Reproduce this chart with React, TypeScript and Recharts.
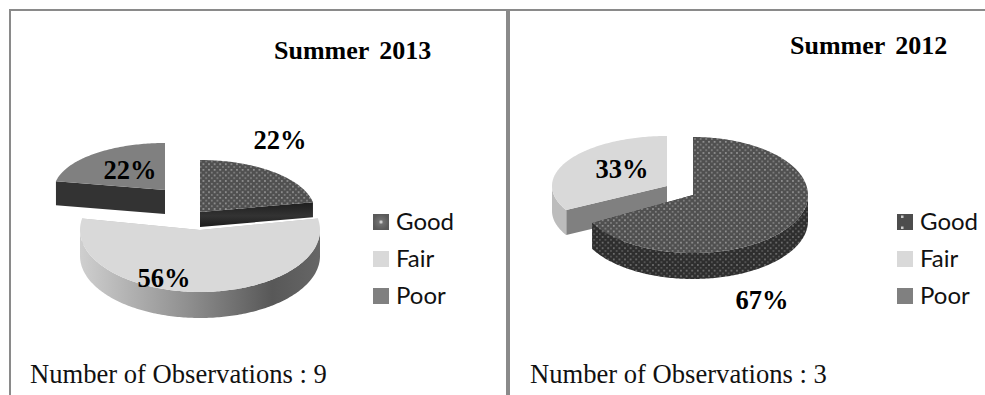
import { Legend, Pie, PieChart } from 'recharts';

const categories = ['Good', 'Fair', 'Poor'];
const values2013 = [22, 56, 22];
const values2012 = [67, 33, 0];
const fills = ['url(#dotsTop)', '#d9d9d9', '#808080'];

// Slices are listed back to front and swept counter-clockwise, so Good paints last
const toRows = (values: number[]) =>
  categories
    .map((name, i) => ({ name, value: values[i], fill: fills[i] }))
    .reverse();

type SliceLook = {
  dx: number;
  dy: number;
  rx: number;
  ry: number;
  depth: number;
  wall: string;
  face: string;
  labelX?: number;
  labelY?: number;
};

const looks2013: Record<string, SliceLook> = {
  Good: { dx: 0, dy: 0, rx: 115, ry: 52, depth: 15, wall: 'url(#goodBand)', face: 'url(#goodBand)', labelX: 80, labelY: -69 },
  Fair: { dx: 0, dy: 18, rx: 120, ry: 62, depth: 26, wall: 'url(#fairWall)', face: '#bdbdbd', labelX: -36, labelY: 69 },
  Poor: { dx: -35, dy: -22, rx: 111, ry: 47, depth: 24, wall: '#333333', face: '#333333', labelX: -70, labelY: -39 },
};

const looks2012: Record<string, SliceLook> = {
  Good: { dx: 0, dy: 0, rx: 115, ry: 58, depth: 26, wall: 'url(#dotsWall)', face: 'url(#dotsWall)', labelX: 69, labelY: 108 },
  Fair: { dx: -26, dy: -9, rx: 115, ry: 50, depth: 25, wall: '#bcbcbc', face: '#808080', labelX: -71, labelY: -23 },
  Poor: { dx: 0, dy: 0, rx: 115, ry: 58, depth: 0, wall: '#808080', face: '#808080' },
};

const RAD = Math.PI / 180;

function makeSlice(looks: Record<string, SliceLook>) {
  return function Slice(props: any) {
    const { cx, cy, outerRadius, startAngle, endAngle, name, fill } = props;
    const look = looks[name ?? props.payload?.name];
    if (!look || startAngle === endAngle) return <g />;
    const k = look.rx / outerRadius;
    const x0 = cx + look.dx;
    const y0 = cy + look.dy;
    const pt = (a: number, down = 0) => ({
      x: x0 + outerRadius * k * Math.cos(a * RAD),
      y: y0 - look.ry * Math.sin(a * RAD) + down,
    });
    const angles: number[] = [];
    for (let a = startAngle; a < endAngle; a += 1) angles.push(a);
    angles.push(endAngle);
    const rim = angles.map((a) => pt(a));
    const top =
      `M${x0},${y0} ` + rim.map((p) => `L${p.x},${p.y}`).join(' ') + ' Z';
    const radial = (a: number) => {
      const p = pt(a);
      return `M${x0},${y0} L${p.x},${p.y} L${p.x},${p.y + look.depth} L${x0},${y0 + look.depth} Z`;
    };
    const front = angles.filter((a) => Math.sin(a * RAD) < 0);
    let wall = '';
    if (front.length > 1) {
      const upper = front.map((a) => pt(a));
      const lower = front.map((a) => pt(a, look.depth)).reverse();
      wall =
        upper.map((p, i) => `${i ? 'L' : 'M'}${p.x},${p.y}`).join(' ') +
        ' ' +
        lower.map((p) => `L${p.x},${p.y}`).join(' ') +
        ' Z';
    }
    return (
      <g>
        <path d={radial(startAngle)} fill={look.face} />
        <path d={radial(endAngle)} fill={look.face} />
        {wall && <path d={wall} fill={look.wall} />}
        <path d={top} fill={fill} />
      </g>
    );
  };
}

function makeLabel(looks: Record<string, SliceLook>) {
  return function SliceLabel(props: any) {
    const { cx, cy, name, value } = props;
    const look = looks[name ?? props.payload?.name];
    if (!look || !value || look.labelX === undefined) return null;
    return (
      <text
        x={cx + look.labelX}
        y={cy + (look.labelY ?? 0)}
        textAnchor="middle"
        dominantBaseline="middle"
        fontFamily="Liberation Serif"
        fontWeight="bold"
        fontSize={26.5}
        fill="#000"
      >
        {value}%
      </text>
    );
  };
}

function PieLegend({ swatch }: { swatch: string }) {
  return (
    <div style={{ fontFamily: 'Lato', fontSize: 24, color: '#111', lineHeight: '37px' }}>
      {categories.map((c, i) => (
        <div key={c} style={{ display: 'flex', alignItems: 'center', height: 37 }}>
          <svg width={16} height={16} style={{ marginRight: 7 }}>
            <rect width={16} height={16} fill={i === 0 ? swatch : fills[i]} />
          </svg>
          <span style={{ position: 'relative', top: -1 }}>{c}</span>
        </div>
      ))}
    </div>
  );
}

function Panel(props: {
  title: string;
  titleX: number;
  titleY: number;
  note: string;
  left: number;
  width: number;
  cx: number;
  cy: number;
  legendX: number;
  swatch: string;
  values: number[];
  looks: Record<string, SliceLook>;
}) {
  const { title, titleX, titleY, note, left, width, cx, cy, legendX, swatch, values, looks } = props;
  return (
    <div style={{ position: 'absolute', left, top: 0 }}>
      <PieChart width={width} height={395} margin={{ top: 0, right: 0, bottom: 0, left: 0 }}>
        <defs>
          <pattern id="dotsTop" width={5.6} height={5.6} patternUnits="userSpaceOnUse">
            <rect width={5.6} height={5.6} fill="#505050" />
            <rect x={1} y={1} width={1.6} height={1.6} fill="#a0a0a0" />
            <rect x={3.8} y={3.8} width={1.6} height={1.6} fill="#888888" />
          </pattern>
          <pattern id="dotsWall" width={5.6} height={5.6} patternUnits="userSpaceOnUse">
            <rect width={5.6} height={5.6} fill="#2e2e2e" />
            <rect x={1} y={1} width={1.6} height={1.6} fill="#7c7c7c" />
            <rect x={3.8} y={3.8} width={1.6} height={1.6} fill="#606060" />
          </pattern>
          <linearGradient id="goodBand" x1="0" y1="0" x2="0" y2="1">
            <stop offset="0" stopColor="#1e1e1e" />
            <stop offset="0.55" stopColor="#333333" />
            <stop offset="1" stopColor="#1c1c1c" />
          </linearGradient>
          <linearGradient id="fairWall" x1="0" y1="0" x2="1" y2="0">
            <stop offset="0" stopColor="#cfcfcf" />
            <stop offset="0.45" stopColor="#8f8f8f" />
            <stop offset="0.8" stopColor="#585858" />
            <stop offset="1" stopColor="#666666" />
          </linearGradient>
          <radialGradient id="swatchOne" cx="0.5" cy="0.5" r="0.5">
            <stop offset="0" stopColor="#f2f2f2" />
            <stop offset="0.3" stopColor="#707070" />
            <stop offset="1" stopColor="#5a5a5a" />
          </radialGradient>
          <pattern id="swatchCorners" width={16} height={16} patternUnits="userSpaceOnUse">
            <rect width={16} height={16} fill="#4d4d4d" />
            <rect x={4} y={1.5} width={2.5} height={2.5} fill="#cccccc" />
            <rect x={4} y={12.5} width={2.5} height={2.5} fill="#cccccc" />
          </pattern>
        </defs>
        <text x={titleX} y={titleY} fontFamily="Liberation Serif" fontWeight="bold" fontSize={26} wordSpacing={4} fill="#000">
          {title}
        </text>
        <text x={30} y={383} fontFamily="Liberation Serif" fontSize={26.6} fill="#111">
          {note}
        </text>
        <Pie
          data={toRows(values)}
          dataKey="value"
          nameKey="name"
          cx={cx}
          cy={cy}
          outerRadius={115}
          startAngle={90}
          endAngle={450}
          stroke="none"
          shape={makeSlice(looks)}
          label={makeLabel(looks)}
          labelLine={false}
          isAnimationActive={false}
        />
        <Legend
          layout="vertical"
          wrapperStyle={{ position: 'absolute', left: legendX, top: 203, width: 110, bottom: 'auto' }}
          content={() => <PieLegend swatch={swatch} />}
        />
      </PieChart>
    </div>
  );
}

export default function App() {
  return (
    <div style={{ position: 'absolute', left: 0, top: 0, width: 985, height: 395, background: '#fff', overflow: 'hidden' }}>
      {/* table rules around the two panels */}
      <div style={{ position: 'absolute', left: 9, top: 9, width: 976, height: 2, background: '#8a8a8a' }} />
      <div style={{ position: 'absolute', left: 9, top: 9, width: 2, height: 386, background: '#8a8a8a' }} />
      <div style={{ position: 'absolute', left: 506, top: 9, width: 4, height: 386, background: '#8a8a8a' }} />
      <Panel
        title="Summer 2013"
        titleX={274}
        titleY={59}
        note="Number of Observations : 9"
        left={0}
        width={500}
        cx={200}
        cy={212}
        legendX={373}
        swatch="url(#swatchOne)"
        values={values2013}
        looks={looks2013}
      />
      <Panel
        title="Summer 2012"
        titleX={290}
        titleY={54}
        note="Number of Observations : 3"
        left={500}
        width={485}
        cx={193}
        cy={195}
        legendX={397}
        swatch="url(#swatchCorners)"
        values={values2012}
        looks={looks2012}
      />
    </div>
  );
}
